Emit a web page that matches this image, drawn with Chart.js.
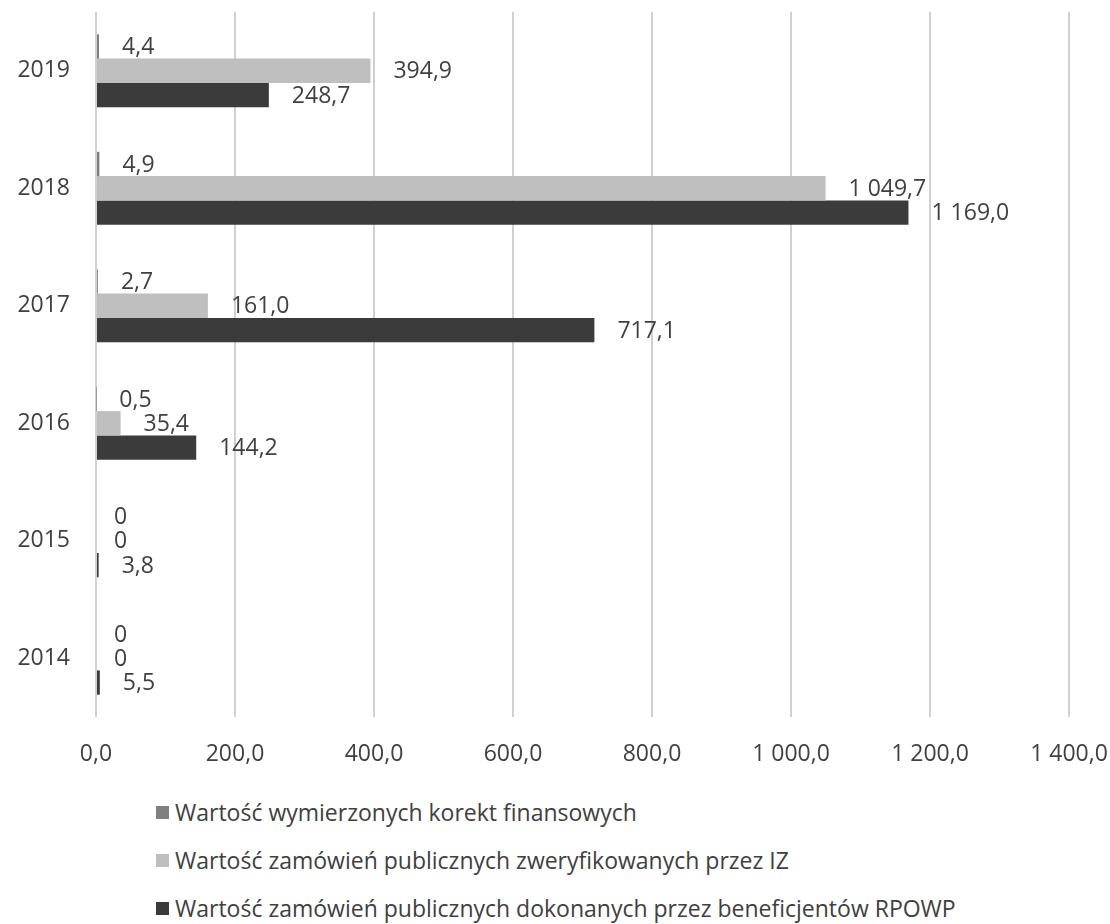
<!DOCTYPE html>
<html>
<head>
<meta charset="utf-8">
<script src="https://cdn.jsdelivr.net/npm/chart.js@4"></script>
<style>
  body { margin: 0; background: #fff; font-family: "Open Sans", sans-serif; }
  #wrap { position: relative; width: 1110px; height: 924px; overflow: hidden; }
  #legend { position: absolute; left: 156px; top: 788px; }
  .lg-item { display: flex; align-items: center; height: 48px; font-size: 23px; color: #404040; white-space: nowrap; }
  .lg-box { width: 13px; height: 13px; margin-right: 6px; }
</style>
</head>
<body>
<div id="wrap">
  <canvas id="chart" width="1110" height="780"></canvas>
  <div id="legend"></div>
</div>
<script>
// ---- data ----
const years      = ['2019', '2018', '2017', '2016', '2015', '2014'];
const korekty    = [4.4, 4.9, 2.7, 0.5, 0, 0];
const zweryfik   = [394.9, 1049.7, 161.0, 35.4, 0, 0];
const dokonane   = [248.7, 1169.0, 717.1, 144.2, 3.8, 5.5];
const seriesNames = [
  'Wartość wymierzonych korekt finansowych',
  'Wartość zamówień publicznych zweryfikowanych przez IZ',
  'Wartość zamówień publicznych dokonanych przez beneficjentów RPOWP'
];
const seriesColors = ['#808080', '#bfbfbf', '#3b3b3b'];
const xMax = 1400, xStep = 200;

const TXT = '#404040';
const FONT = '"Open Sans", sans-serif';

// 1 049,7 style
function fmtPL(v) {
  const p = v.toFixed(1).split('.');
  return p[0].replace(/\B(?=(\d{3})+(?!\d))/g, ' ') + ',' + p[1];
}

// value labels next to bar ends
const barLabels = {
  id: 'barLabels',
  afterDatasetsDraw(chart) {
    const ctx = chart.ctx;
    ctx.save();
    ctx.font = '23px ' + FONT;
    ctx.fillStyle = TXT;
    ctx.textAlign = 'left';
    ctx.textBaseline = 'middle';
    chart.data.datasets.forEach((ds, di) => {
      chart.getDatasetMeta(di).data.forEach((bar, i) => {
        const v = ds.data[i];
        const txt = v === 0 ? '0' : fmtPL(v);
        ctx.fillText(txt, bar.x + (v === 0 ? 18 : 23), bar.y + 1);
      });
    });
    ctx.restore();
  }
};

const chart = new Chart(document.getElementById('chart'), {
  type: 'bar',
  data: {
    labels: years,
    datasets: seriesNames.map((name, i) => ({
      label: name,
      data: [korekty, zweryfik, dokonane][i],
      backgroundColor: seriesColors[i],
      categoryPercentage: 0.62,
      barPercentage: 1.0
    }))
  },
  options: {
    indexAxis: 'y',
    responsive: false,
    animation: false,
    layout: { padding: { top: 12, right: 41, left: 0, bottom: 0 } },
    plugins: { legend: { display: false }, tooltip: { enabled: false } },
    scales: {
      x: {
        min: 0, max: xMax,
        ticks: {
          stepSize: xStep,
          padding: 24,
          color: TXT,
          font: { family: FONT, size: 23 },
          callback: v => fmtPL(v)
        },
        grid: { color: '#d0d0d0', lineWidth: 2, drawTicks: false },
        border: { display: false },
        afterFit: s => { s.height = 63; s.paddingLeft = 0; s.paddingRight = 0; }
      },
      y: {
        ticks: { padding: 26, color: TXT, font: { family: FONT, size: 23 } },
        grid: { display: false, drawTicks: false },
        border: { display: false },
        afterFit: s => { s.width = 96; s.paddingTop = 0; s.paddingBottom = 0; }
      }
    }
  },
  plugins: [barLabels]
});

// legend, one item per line
document.getElementById('legend').innerHTML = seriesNames.map((n, i) =>
  `<div class="lg-item"><span class="lg-box" style="background:${seriesColors[i]}"></span>${n}</div>`
).join('');
</script>
</body>
</html>
